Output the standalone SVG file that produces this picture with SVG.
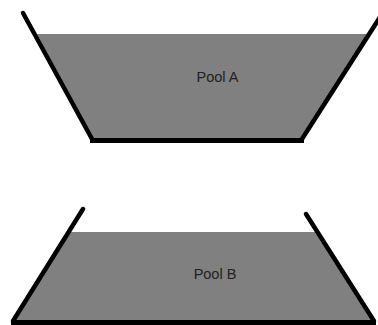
<svg xmlns="http://www.w3.org/2000/svg" width="378" height="325" viewBox="0 0 378 325">
<style>
.water{fill:#808080;stroke:none}
.wall{stroke:#000;stroke-width:4.5;fill:none;stroke-linecap:round}
.floor{stroke:#000;stroke-width:5;fill:none;stroke-linecap:butt}
.label{font-family:"Liberation Sans",Arial,sans-serif;font-size:14.5px;fill:#222;text-anchor:middle}
</style>
<rect width="378" height="325" fill="#fff"/>
<g id="poolA">
<polygon class="water" points="37,34 369,34 302,139 92,139"/>
<line class="wall" x1="23" y1="13" x2="92" y2="139"/>
<line class="wall" x1="302" y1="139" x2="382" y2="14"/>
<line class="floor" x1="90" y1="140.5" x2="304" y2="140.5"/>
<text class="label" x="217.5" y="82">Pool A</text>
</g>
<g id="poolB">
<polygon class="water" points="68,232 315,232 373,321 13,321"/>
<line class="wall" x1="83" y1="209" x2="13" y2="321"/>
<line class="wall" x1="306" y1="214" x2="374" y2="321"/>
<line class="floor" x1="11" y1="322.5" x2="376" y2="322.5"/>
<text class="label" x="215" y="278.5">Pool B</text>
</g>
<g id="connectors"></g>
</svg>
